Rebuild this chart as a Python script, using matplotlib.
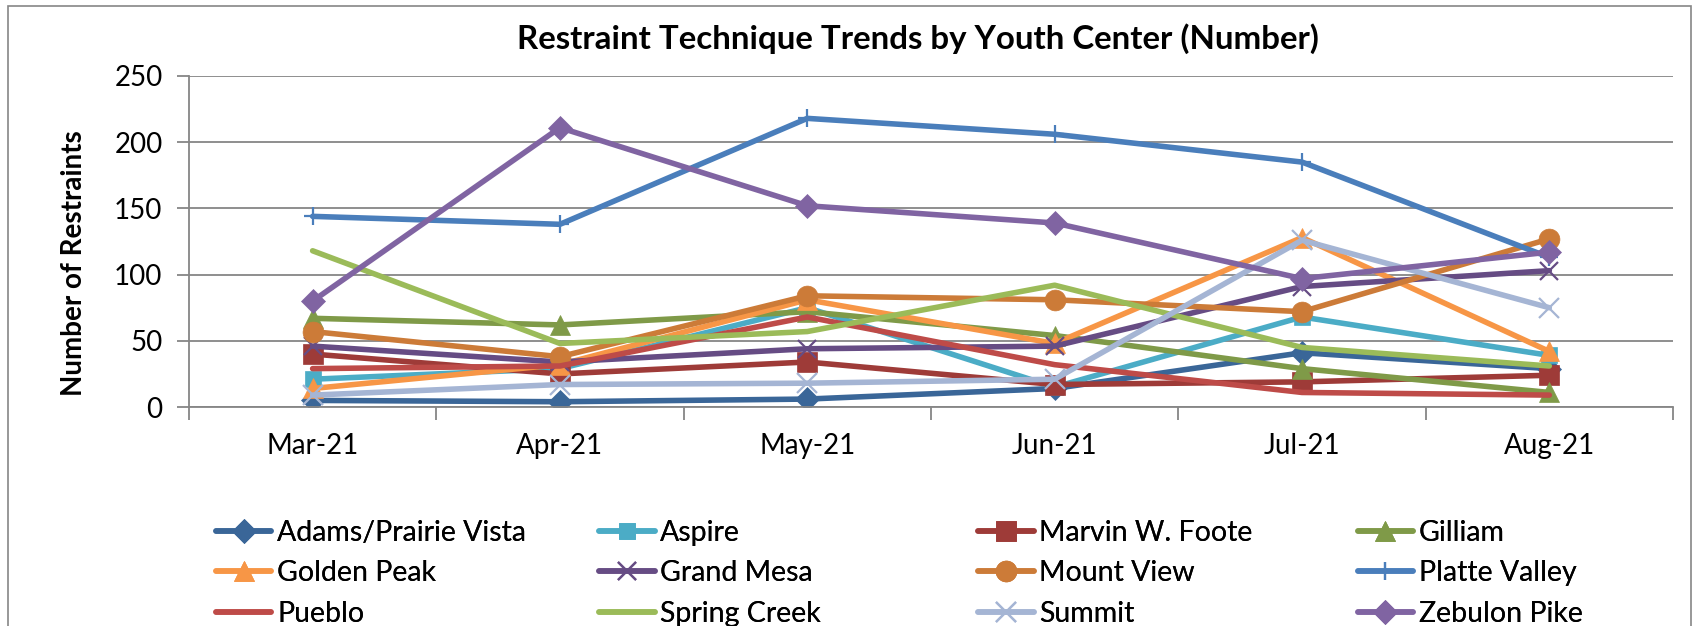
import numpy as np
import matplotlib.pyplot as plt
import matplotlib.patches as patches

plt.rcParams['font.family'] = ['Lato', 'DejaVu Sans']

months = ['Mar-21', 'Apr-21', 'May-21', 'Jun-21', 'Jul-21', 'Aug-21']

# restraint counts per youth center
adams = [5, 4, 6, 14, 41, 29]
aspire = [21, 29, 75, 15, 68, 39]
marvin = [40, 25, 34, 17, 19, 24]
gilliam = [67, 62, 72, 54, 29, 11]
golden_peak = [14, 32, 81, 48, 128, 42]
grand_mesa = [46, 34, 44, 46, 91, 103]
mount_view = [57, 38, 84, 81, 72, 127]
platte = [144, 138, 218, 206, 185, 113]
pueblo = [29, 31, 68, 32, 11, 9]
spring_creek = [118, 48, 57, 92, 45, 31]
summit = [9, 17, 18, 21, 126, 75]
zebulon = [80, 211, 152, 139, 97, 117]

series = [
    ('Adams/Prairie Vista', adams, '#3A6698', 'D', 12),
    ('Aspire', aspire, '#4BACC6', 's', 12),
    ('Marvin W. Foote', marvin, '#9E3B38', 's', 14),
    ('Gilliam', gilliam, '#7F9A48', '^', 14),
    ('Golden Peak', golden_peak, '#F79646', '^', 14),
    ('Grand Mesa', grand_mesa, '#664C84', 'x', 13),
    ('Mount View', mount_view, '#CC7B38', 'o', 15),
    ('Platte Valley', platte, '#4A7EBB', '+', 13),
    ('Pueblo', pueblo, '#BE4B48', None, 0),
    ('Spring Creek', spring_creek, '#9BBB59', None, 0),
    ('Summit', summit, '#A5B5D4', 'x', 15),
    ('Zebulon Pike', zebulon, '#8064A2', 'D', 12),
]

fig = plt.figure(figsize=(16.99, 6.26), dpi=100)
ax = fig.add_axes([0.1112, 0.3498, 0.8735, 0.5288])

x = np.arange(len(months))
handles = []
for name, vals, col, mk, ms in series:
    line, = ax.plot(x, vals, color=col, linewidth=4.0, marker=mk, markersize=ms,
                    markeredgewidth=1.6 if mk in ('x', '+') else 0.5,
                    markeredgecolor=col, markerfacecolor=col, label=name,
                    solid_capstyle='round')
    handles.append(line)

ax.set_xlim(-0.5, len(months) - 0.5)
ax.set_ylim(0, 250)
ax.set_yticks(np.arange(0, 251, 50))
ax.yaxis.grid(True, color='#868686', linewidth=1.3)
ax.set_axisbelow(True)
ax.set_xticks(np.arange(-0.5, len(months), 1))
ax.set_xticklabels([])
ax.set_xticks(x, minor=True)
ax.set_xticklabels(months, minor=True)
ax.tick_params(axis='x', which='major', length=9, width=1.3, color='#868686')
ax.tick_params(axis='x', which='minor', length=0, pad=19, labelsize=20)
ax.tick_params(axis='y', length=9, width=1.3, color='#868686', labelsize=20, pad=10)
for s in ['top', 'right']:
    ax.spines[s].set_visible(False)
for s in ['left', 'bottom']:
    ax.spines[s].set_color('#868686')
    ax.spines[s].set_linewidth(1.3)

fig.text(0.54, 0.938, 'Restraint Technique Trends by Youth Center (Number)',
         ha='center', va='center', fontsize=23.8, fontweight='bold')
fig.text(0.0435, 0.58, 'Number of Restraints', rotation=90, ha='center',
         va='center', fontsize=20, fontweight='bold')

# legend: four columns placed at fixed positions, filled row by row
col_x = [0.127, 0.3526, 0.5758, 0.799]
for c in range(4):
    hs = [handles[r * 4 + c] for r in range(3)]
    leg = fig.legend(handles=hs, loc='upper left', bbox_to_anchor=(col_x[c], 0.169),
                     frameon=False, fontsize=20.5, handlelength=1.95, handletextpad=0.2,
                     labelspacing=0.5, borderaxespad=0, borderpad=0)
    fig.add_artist(leg)

border = patches.Rectangle((0.005, -0.05), 0.99, 1.04, transform=fig.transFigure,
                           fill=False, edgecolor='#868686', linewidth=1.2)
fig.add_artist(border)

fig.savefig('out.png', dpi=100)
